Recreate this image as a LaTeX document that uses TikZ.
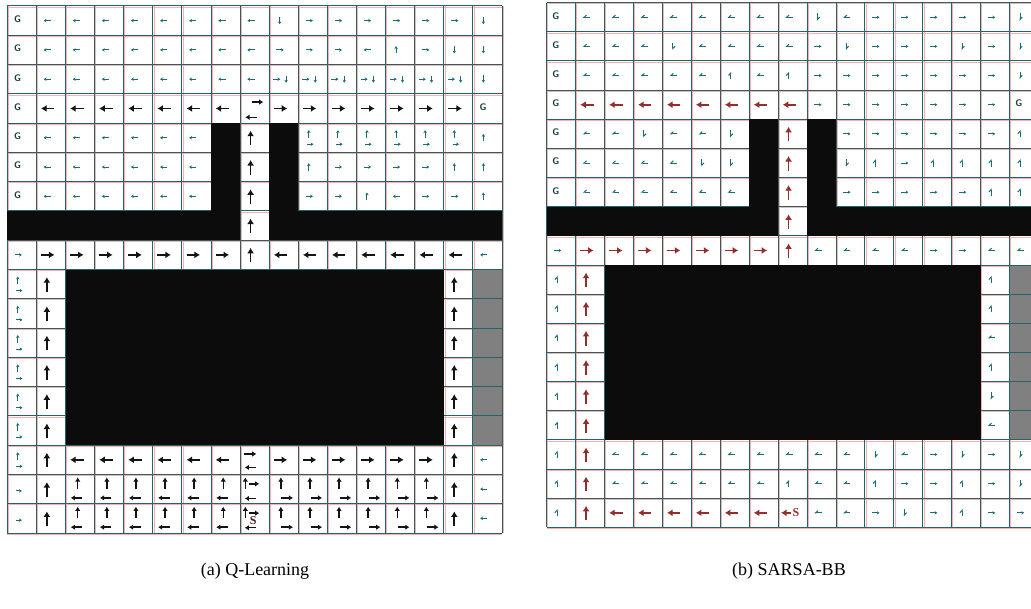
\documentclass[tikz,border=0pt]{standalone}
\usepackage{fontspec}
\setmainfont{Liberation Serif}
\usetikzlibrary{arrows.meta}
\definecolor{gteal}{RGB}{35,100,105}
\definecolor{gpink}{RGB}{248,175,175}
\definecolor{ateal}{RGB}{25,110,114}
\definecolor{dred}{RGB}{150,45,45}
\definecolor{blkfill}{RGB}{12,12,12}
\definecolor{gryfill}{RGB}{128,128,128}
\definecolor{gtext}{RGB}{25,65,68}
\newcommand\aSL[2]{\draw[saL] ({#1+0.5},{#2+0.5}) -- ({#1+0.25},{#2+0.5});}
\newcommand\aSR[2]{\draw[saR] ({#1+0.25},{#2+0.5}) -- ({#1+0.5},{#2+0.5});}
\newcommand\aSU[2]{\draw[saU] ({#1+0.36},{#2+0.62}) -- ({#1+0.36},{#2+0.37});}
\newcommand\aSD[2]{\draw[saD] ({#1+0.36},{#2+0.37}) -- ({#1+0.36},{#2+0.62});}
\newcommand\aBL[2]{\draw[ba] ({#1+0.62},{#2+0.5}) -- ({#1+0.16},{#2+0.5});}
\newcommand\aBR[2]{\draw[ba] ({#1+0.16},{#2+0.5}) -- ({#1+0.62},{#2+0.5});}
\newcommand\aBU[2]{\draw[ba] ({#1+0.36},{#2+0.76}) -- ({#1+0.36},{#2+0.26});}
\newcommand\aGen[7]{\draw[#1] ({#2+#4},{#3+#5}) -- ({#2+#6},{#3+#7});}
\newcommand\upDash[2]{\aGen{saU}{#1}{#2}{0.36}{0.5}{0.36}{0.24}\aGen{saR}{#1}{#2}{0.3}{0.72}{0.52}{0.72}}
\newcommand\gridlines{%
  \foreach \i in {0,...,17} {\draw[gpl] ([xshift=1pt]\i,0) -- ([xshift=1pt]\i,18);}
  \foreach \j in {0,...,18} {\draw[gpl] ([yshift=-1pt]0,\j) -- ([yshift=-1pt]17,\j);}
  \foreach \i in {0,...,17} {\draw[gtl] (\i,0) -- (\i,18);}
  \foreach \j in {0,...,18} {\draw[gtl] (0,\j) -- (17,\j);}
  \fill[blkfill] (0,7) rectangle (8,8);
  \fill[blkfill] (9,7) rectangle (17,8);
  \fill[blkfill] (7,4) rectangle (8,7);
  \fill[blkfill] (9,4) rectangle (10,7);
  \fill[blkfill] (2,9) rectangle (15,15);
  \fill[gryfill] (16,9) rectangle (17,15);
  \foreach \i in {9,...,15} {\draw[gtl] (16,\i) -- (17,\i);}
}
\tikzset{
  gpl/.style={gpink, line width=0.6pt},
  gtl/.style={gteal, line width=1pt},
  gtx/.style={font=\sffamily\bfseries\fontsize{9.5}{9.5}\selectfont, text=gtext, inner sep=0pt},
  captxt/.style={font=\fontsize{18}{20}\selectfont, inner sep=0pt},
}
\begin{document}
\begin{tikzpicture}[x=1pt, y=-1pt]
\useasboundingbox (0,0) rectangle (1031,609);
\fill[white] (0,0) rectangle (1031,609);
\clip (0,0) rectangle (1031,609);

% ---------------- Left grid: Q-Learning ----------------
\begin{scope}[shift={(7.3,6)}, x=29.1pt, y=-29.28pt,
  saL/.style={ateal, line width=1pt, -{Stealth[length=2.8pt,width=3.4pt]}},
  saR/.style={saL}, saU/.style={saL}, saD/.style={saL},
  ba/.style={black!92, line width=1.8pt, -{Latex[length=5.5pt,width=7pt]}},
  ma/.style={black!92, line width=1.4pt, -{Latex[length=4.2pt,width=5.5pt]}}]
\gridlines
\foreach \r in {0,...,6} {\node[gtx] (LG\r) at (0.35,{\r+0.45}) {G};}
\node[gtx] (LGr) at (16.35,3.45) {G};
% row 0
\foreach \c in {1,...,8} {\aSL{\c}{0}} \aSD{9}{0} \foreach \c in {10,...,15} {\aSR{\c}{0}} \aSD{16}{0}
% row 1
\foreach \c in {1,...,8} {\aSL{\c}{1}} \aSR{9}{1}\aSR{10}{1}\aSR{11}{1}\aSL{12}{1}\aSU{13}{1}\aSR{14}{1}\aSD{15}{1}\aSD{16}{1}
% row 2
\foreach \c in {1,...,8} {\aSL{\c}{2}}
\foreach \c in {9,...,15} {\aGen{saR}{\c}{2}{0.14}{0.5}{0.38}{0.5}\aGen{saD}{\c}{2}{0.58}{0.38}{0.58}{0.62}}
\aSD{16}{2}
% row 3
\foreach \c in {1,...,7} {\aBL{\c}{3}}
\aGen{ma}{8}{3}{0.4}{0.28}{0.8}{0.28}\aGen{ma}{8}{3}{0.58}{0.8}{0.18}{0.8}
\foreach \c in {9,...,15} {\aBR{\c}{3}}
% rows 4-6
\foreach \r in {4,5,6} {\foreach \c in {1,...,6} {\aSL{\c}{\r}} \aBU{8}{\r}}
\foreach \c in {10,...,15} {\upDash{\c}{4}} \aSU{16}{4}
\aSU{10}{5}\aSR{11}{5}\aSR{12}{5}\aSR{13}{5}\aSR{14}{5}\aSU{15}{5}\aSU{16}{5}
\aSR{10}{6}\aSR{11}{6}\aSU{12}{6}\aSL{13}{6}\aSR{14}{6}\aSR{15}{6}\aSU{16}{6}
% row 7
\aBU{8}{7}
% row 8
\aSR{0}{8} \foreach \c in {1,...,7} {\aBR{\c}{8}} \aBU{8}{8} \foreach \c in {9,...,15} {\aBL{\c}{8}} \aSL{16}{8}
% rows 9-14
\foreach \r in {9,...,14} {\upDash{0}{\r}\aBU{1}{\r}\aBU{15}{\r}}
% row 15
\upDash{0}{15}\aBU{1}{15}
\foreach \c in {2,...,7} {\aBL{\c}{15}}
\aGen{ma}{8}{15}{0.12}{0.3}{0.56}{0.3}\aGen{ma}{8}{15}{0.56}{0.76}{0.16}{0.76}
\foreach \c in {9,...,14} {\aBR{\c}{15}}
\aBU{15}{15}\aSL{16}{15}
% rows 16-17
\foreach \r in {16,17} {
  \aGen{saR}{0}{\r}{0.3}{0.56}{0.5}{0.56}
  \aBU{1}{\r}
  \foreach \c in {2,...,7} {\aGen{ma}{\c}{\r}{0.42}{0.48}{0.42}{0.1}\aGen{ma}{\c}{\r}{0.58}{0.8}{0.18}{0.8}}
  \aGen{ma}{8}{\r}{0.18}{0.48}{0.18}{0.1}\aGen{ma}{8}{\r}{0.3}{0.32}{0.66}{0.32}\aGen{ma}{8}{\r}{0.55}{0.82}{0.16}{0.82}
  \foreach \c in {9,...,14} {\aGen{ma}{\c}{\r}{0.4}{0.48}{0.4}{0.1}\aGen{ma}{\c}{\r}{0.42}{0.8}{0.82}{0.8}}
  \aBU{15}{\r}\aSL{16}{\r}
}
\node[font=\bfseries\fontsize{12}{12}\selectfont, text={rgb,255:red,70;green,30;blue,30}, inner sep=0pt] (LS) at (8.45,17.56) {S};
\end{scope}

% ---------------- Right grid: SARSA-BB ----------------
\begin{scope}[shift={(546.7,2.7)}, x=28.93pt, y=-29.15pt,
  saL/.style={ateal, line width=1pt, -{Straight Barb[harpoon,swap,length=2.4pt,width=4.4pt]}},
  saR/.style={ateal, line width=1pt, -{Stealth[length=2.6pt,width=3.2pt]}},
  saU/.style={ateal, line width=1pt, -{Straight Barb[harpoon,length=2.4pt,width=4.4pt]}},
  saD/.style={ateal, line width=1pt, -{Straight Barb[harpoon,length=2.4pt,width=4.4pt]}},
  ba/.style={dred, line width=1.8pt, -{Latex[length=5.5pt,width=7pt]}},
  ma/.style={ba}]
\gridlines
\foreach \r in {0,...,6} {\node[gtx] (RG\r) at (0.32,{\r+0.45}) {G};}
\node[gtx] (RGr) at (16.32,3.45) {G};
% row 0
\foreach \c in {1,...,8} {\aSL{\c}{0}} \aSD{9}{0}\aSL{10}{0}\foreach \c in {11,...,15} {\aSR{\c}{0}}\aSD{16}{0}
% row 1
\aSL{1}{1}\aSL{2}{1}\aSL{3}{1}\aSD{4}{1}\foreach \c in {5,...,8} {\aSL{\c}{1}}
\aSR{9}{1}\aSD{10}{1}\aSR{11}{1}\aSR{12}{1}\aSR{13}{1}\aSD{14}{1}\aSR{15}{1}\aSD{16}{1}
% row 2
\foreach \c in {1,...,5} {\aSL{\c}{2}}\aSU{6}{2}\aSL{7}{2}\aSU{8}{2}\foreach \c in {9,...,15} {\aSR{\c}{2}}\aSD{16}{2}
% row 3
\foreach \c in {1,...,8} {\aBL{\c}{3}}\foreach \c in {9,...,15} {\aSR{\c}{3}}
% row 4
\aSL{1}{4}\aSL{2}{4}\aSD{3}{4}\aSL{4}{4}\aSL{5}{4}\aSD{6}{4}\aBU{8}{4}\foreach \c in {10,...,15} {\aSR{\c}{4}}\aSU{16}{4}
% row 5
\foreach \c in {1,...,4} {\aSL{\c}{5}}\aSD{5}{5}\aSD{6}{5}\aBU{8}{5}
\aSD{10}{5}\aSU{11}{5}\aSR{12}{5}\aSU{13}{5}\aSU{14}{5}\aSU{15}{5}\aSU{16}{5}
% row 6
\foreach \c in {1,...,6} {\aSL{\c}{6}}\aBU{8}{6}\foreach \c in {10,...,14} {\aSR{\c}{6}}\aSU{15}{6}\aSU{16}{6}
% row 7
\aBU{8}{7}
% row 8
\aSR{0}{8}\foreach \c in {1,...,7} {\aBR{\c}{8}}\aBU{8}{8}\foreach \c in {9,...,12} {\aSL{\c}{8}}
\aSR{13}{8}\aSR{14}{8}\aSL{15}{8}\aSL{16}{8}
% rows 9-17 left columns
\foreach \r in {9,...,17} {\aSU{0}{\r}\aBU{1}{\r}}
\aSU{15}{9}\aSU{15}{10}\aSL{15}{11}\aSU{15}{12}\aSD{15}{13}\aSL{15}{14}
% row 15
\foreach \c in {2,...,10} {\aSL{\c}{15}}\aSD{11}{15}\aSL{12}{15}\aSR{13}{15}\aSD{14}{15}\aSR{15}{15}\aSD{16}{15}
% row 16
\foreach \c in {2,...,7} {\aSL{\c}{16}}\aSU{8}{16}\aSL{9}{16}\aSL{10}{16}\aSU{11}{16}\aSR{12}{16}\aSR{13}{16}\aSU{14}{16}\aSR{15}{16}\aSD{16}{16}
% row 17
\foreach \c in {2,...,7} {\aBL{\c}{17}}
\aGen{ma}{8}{17}{0.46}{0.5}{0.1}{0.5}
\node[font=\bfseries\fontsize{12}{12}\selectfont, text=dred, inner sep=0pt] (RS) at (8.62,17.5) {S};
\aSL{9}{17}\aSL{10}{17}\aSR{11}{17}\aSD{12}{17}\aSR{13}{17}\aSU{14}{17}\aSR{15}{17}\aSR{16}{17}
\end{scope}

% captions
\node[captxt] (capA) at (255,571) {(a) Q-Learning};
\node[captxt] (capB) at (789,571) {(b) SARSA-BB};
\end{tikzpicture}
\end{document}
